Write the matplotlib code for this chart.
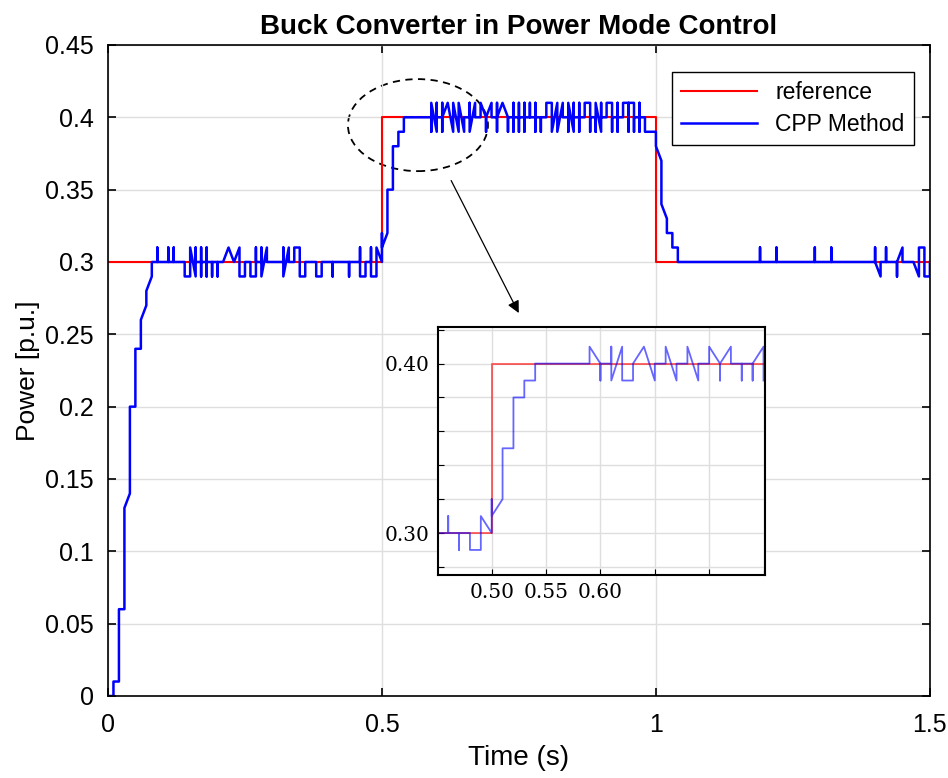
import matplotlib.pyplot as plt
from matplotlib.patches import Ellipse
import numpy as np

plt.rcParams['font.family'] = ['Liberation Sans', 'DejaVu Sans']

dt = 0.01  # sample time of the CPP controller (s)

# reference power
ref_t = [0.0, 0.5, 0.5, 1.0, 1.0, 1.5]
ref_p = [0.30, 0.30, 0.40, 0.40, 0.30, 0.30]

# CPP method: values visited at each sample instant k*dt (k = 0, 1, 2, ...)
rise = [[0.0], [0.0, 0.01], [0.01, 0.06], [0.06, 0.13], [0.14, 0.20],
        [0.20, 0.24], [0.24, 0.26], [0.27, 0.28], [0.29, 0.30]]          # k0-k8
hold_lo = [[0.30, 0.31, 0.30], [0.30], [0.30, 0.31, 0.30], [0.30, 0.31, 0.30],  # k9-k12
           [0.30], [0.30, 0.29], [0.29, 0.31], [0.29, 0.31, 0.30],             # k13-k16
           [0.30, 0.29, 0.31, 0.30], [0.30, 0.29, 0.31, 0.30],                 # k17-k18
           [0.30, 0.29, 0.30], [0.30, 0.29, 0.30], [0.30], [0.31], [0.30],     # k19-k23
           [0.31, 0.29], [0.29, 0.30], [0.30, 0.29], [0.29, 0.31, 0.30],       # k24-k27
           [0.30, 0.31, 0.29], [0.31, 0.30], [0.30], [0.30],                   # k28-k31
           [0.30, 0.31, 0.29], [0.31, 0.30], [0.30, 0.31], [0.31, 0.29],       # k32-k35
           [0.29, 0.30], [0.30], [0.30, 0.29], [0.29, 0.30], [0.30],           # k36-k40
           [0.30, 0.29, 0.30], [0.30], [0.30], [0.30, 0.29, 0.30], [0.30],     # k41-k45
           [0.30, 0.31, 0.30, 0.29], [0.29, 0.30], [0.30, 0.31, 0.29],         # k46-k48
           [0.29, 0.31]]                                                       # k49
step_up = [[0.30, 0.32, 0.31], [0.32, 0.35], [0.35, 0.38], [0.38, 0.39],
           [0.39, 0.40], [0.40], [0.40], [0.40], [0.40]]                       # k50-k58
hold_hi = [[0.40, 0.39, 0.41], [0.39, 0.41, 0.40], [0.40, 0.39, 0.41, 0.40],   # k59-k61
           [0.41], [0.39, 0.41], [0.39, 0.41], [0.39, 0.40],                   # k62-k65
           [0.40, 0.41, 0.39], [0.41, 0.40], [0.40, 0.41], [0.40, 0.39, 0.40], # k66-k69
           [0.41, 0.40], [0.40, 0.39, 0.41, 0.40], [0.41], [0.40, 0.39, 0.40], # k70-k73
           [0.40, 0.41, 0.39, 0.40], [0.40, 0.39, 0.41, 0.40],                 # k74-k75
           [0.40, 0.39, 0.41, 0.40], [0.40, 0.41, 0.40],                       # k76-k77
           [0.40, 0.39, 0.41, 0.40], [0.40, 0.39, 0.40], [0.40, 0.41],         # k78-k80
           [0.41, 0.39], [0.41, 0.39], [0.41, 0.40], [0.40, 0.39, 0.41],       # k81-k84
           [0.39, 0.41, 0.40], [0.40, 0.39, 0.41, 0.40], [0.40, 0.41],         # k85-k87
           [0.41, 0.39, 0.40], [0.40, 0.39, 0.41], [0.39, 0.41, 0.40],         # k88-k90
           [0.40, 0.41], [0.41, 0.39, 0.40], [0.40, 0.39, 0.41, 0.40],         # k91-k93
           [0.40, 0.41], [0.41, 0.39, 0.41], [0.41, 0.39, 0.40],               # k94-k96
           [0.40, 0.41, 0.39, 0.40], [0.40, 0.39], [0.39]]                     # k97-k99
fall = [[0.39, 0.38], [0.37, 0.34], [0.33, 0.32], [0.32, 0.31], [0.31, 0.30]]  # k100-k104
hold_end = [[0.30]] * 14 + [[0.30, 0.31, 0.30], [0.30], [0.30],               # k105-k121
            [0.30, 0.31, 0.30]] + [[0.30]] * 6 + [[0.30, 0.31, 0.30],         # k122-k129
            [0.30], [0.30], [0.30, 0.31, 0.30]] + [[0.30]] * 7 + [            # k130-k139
            [0.30, 0.31, 0.30], [0.29, 0.30], [0.30, 0.31, 0.30], [0.30],     # k140-k143
            [0.30, 0.29, 0.30], [0.31, 0.30], [0.30], [0.30],                 # k144-k147
            [0.29, 0.31], [0.31, 0.29], [0.29, 0.30]]                         # k148-k150

# zoomed view (inset), samples from k = 45
inset_k0 = 45
inset_samples = [[0.30], [0.30, 0.31, 0.30], [0.30, 0.29, 0.30], [0.30, 0.29],
                 [0.29, 0.31], [0.30, 0.32, 0.31], [0.32, 0.35], [0.35, 0.38],
                 [0.38, 0.39], [0.39, 0.40], [0.40], [0.40], [0.40], [0.40],
                 [0.40, 0.41], [0.40, 0.39, 0.40], [0.40, 0.41, 0.39], [0.41, 0.39],
                 [0.39, 0.40], [0.41], [0.39, 0.40], [0.40, 0.41], [0.39, 0.40],
                 [0.40, 0.41], [0.39, 0.40], [0.40, 0.41], [0.40, 0.39, 0.40],
                 [0.41, 0.40], [0.40, 0.39, 0.40], [0.40, 0.39, 0.40], [0.41, 0.39]]


def to_path(samples, k0=0):
    t, p = [], []
    for i, vals in enumerate(samples):
        for v in vals:
            t.append((k0 + i) * dt)
            p.append(v)
    return np.array(t), np.array(p)


cpp_t, cpp_p = to_path(rise + hold_lo + step_up + hold_hi + fall + hold_end)
ins_t, ins_p = to_path(inset_samples, inset_k0)

fig = plt.figure(figsize=(9.48, 7.78), dpi=100)
ax = fig.add_axes([0.1139, 0.1054, 0.867, 0.8368])
ax.plot(ref_t, ref_p, color='red', lw=1.5, label='reference')
ax.plot(cpp_t, cpp_p, color='blue', lw=1.8, label='CPP Method')
ax.set_xlim(0, 1.5)
ax.set_ylim(0, 0.45)
ax.set_xticks([0, 0.5, 1, 1.5])
ax.set_xticklabels(['0', '0.5', '1', '1.5'])
ax.set_yticks(np.arange(0, 0.451, 0.05))
ax.set_yticklabels(['0', '0.05', '0.1', '0.15', '0.2', '0.25', '0.3', '0.35', '0.4', '0.45'])
ax.grid(True, color='#dedede', lw=1)
ax.tick_params(direction='in', top=True, right=True, labelsize=18, length=6, width=1.2)
ax.tick_params(axis='y', pad=10)
ax.tick_params(axis='x', pad=12)
for s in ax.spines.values():
    s.set_linewidth(1.2)
ax.set_xlabel('Time (s)', fontsize=20, labelpad=6)
ax.set_ylabel('Power [p.u.]', fontsize=19, labelpad=4)
ax.set_title('Buck Converter in Power Mode Control', fontsize=20, fontweight='bold', pad=8)
ax.legend(loc='upper right', bbox_to_anchor=(0.9805, 0.9585), borderaxespad=0,
          fontsize=16.5, handlelength=3.3, fancybox=False, edgecolor='black',
          framealpha=1, borderpad=0.4, labelspacing=0.4, handletextpad=0.8)

# dashed ellipse and arrow pointing at the zoomed view
ax.add_patch(Ellipse((0.5657, 0.3946), 0.2555, 0.0636, fill=False,
                     ls=(0, (4, 3)), lw=1.3, color='black'))
ax.annotate('', xy=(0.752, 0.263), xytext=(0.624, 0.358),
            arrowprops=dict(arrowstyle='-|>', color='black', lw=0.9, mutation_scale=18))

# inset
axi = fig.add_axes([0.462, 0.2609, 0.345, 0.3188])
axi.plot(ref_t, ref_p, color='red', lw=1.4, alpha=0.6)
axi.plot(ins_t, ins_p, color='blue', lw=1.3, alpha=0.6)
axi.set_xlim(0.4506, 0.7514)
axi.set_ylim(0.2752, 0.4216)
axi.set_xticks([0.50, 0.55, 0.60, 0.65, 0.70, 0.75])
axi.set_xticklabels(['0.50', '0.55', '0.60', '', '', ''])
axi.set_yticks([0.28, 0.30, 0.32, 0.34, 0.36, 0.38, 0.40, 0.42])
axi.set_yticklabels(['', '0.30', '', '', '', '', '0.40', ''])
axi.grid(True, color='#dedede', lw=1)
axi.tick_params(direction='in', labelsize=14.5, length=4, pad=6)
for lab in axi.get_xticklabels() + axi.get_yticklabels():
    lab.set_family('DejaVu Serif')
for s in axi.spines.values():
    s.set_linewidth(1.5)

fig.savefig('out.png', dpi=100)
